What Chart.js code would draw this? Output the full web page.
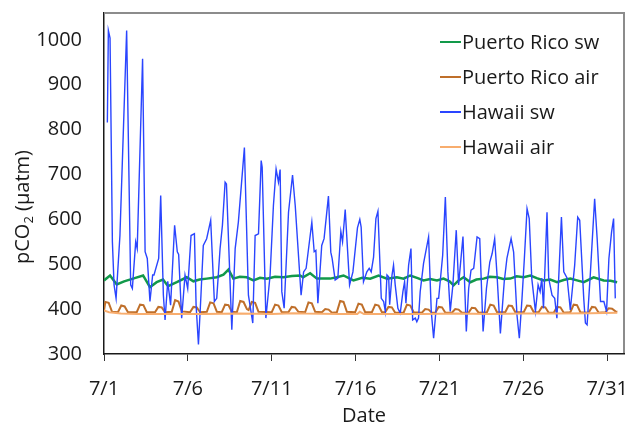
<!DOCTYPE html>
<html>
<head>
<meta charset="utf-8">
<script src="https://cdn.jsdelivr.net/npm/chart.js@4"></script>
<style>
  html, body { margin: 0; padding: 0; background: #fff; }
  #wrap { width: 630px; height: 424px; }
</style>
</head>
<body>
<div id="wrap"><canvas id="pco2Chart" width="630" height="424"></canvas></div>
<script>
// days since 7/1 00:00
const tickDays = [0, 5, 10, 15, 20, 25, 30];
const tickLabels = ["7/1", "7/6", "7/11", "7/16", "7/21", "7/26", "7/31"];
const yTicks = [300, 400, 500, 600, 700, 800, 900, 1000];

const seriesNames = ["Puerto Rico sw", "Puerto Rico air", "Hawaii sw", "Hawaii air"];
const seriesColors = ["#12994a", "#bf6f2a", "#2a45ff", "#f8ad6e"];

const prSwDays = [0, 0.36, 0.76, 1.2, 1.73, 2.33, 2.74, 3.14, 3.52, 3.82, 4.34, 4.93, 5.33, 5.7, 6.13, 6.72, 7.12, 7.42, 7.71, 8.1, 8.51, 8.91, 9.3, 9.71, 10.2, 10.7, 11.2, 11.69, 11.87, 12.29, 12.69, 12.89, 13.48, 13.88, 14.28, 14.87, 15.4, 15.87, 16.37, 16.87, 17.46, 17.86, 18.26, 18.7, 19.05, 19.45, 19.85, 20.24, 20.6, 20.84, 21.14, 21.44, 21.84, 22.2, 22.63, 23.0, 23.43, 23.8, 24.22, 24.6, 25.02, 25.42, 25.8, 26.21, 26.6, 27.01, 27.4, 27.8, 28.2, 28.6, 29.19, 29.79, 30.2, 30.59];
const prSwValues = [464, 475, 455, 462, 468, 475, 449, 460, 466, 451, 460, 471, 462, 466, 468, 471, 477, 488, 468, 472, 471, 464, 470, 468, 472, 471, 474, 475, 471, 480, 468, 468, 468, 471, 475, 464, 470, 468, 475, 468, 471, 468, 475, 469, 464, 467, 464, 468, 462, 453, 464, 471, 460, 466, 468, 472, 471, 467, 468, 473, 471, 475, 469, 464, 466, 460, 465, 468, 464, 460, 471, 464, 463, 460];

const prAirDays = [0, 0.08, 0.28, 0.48, 0.83, 1.03, 1.23, 1.43, 1.95, 2.15, 2.35, 2.55, 3.04, 3.24, 3.44, 3.64, 4.04, 4.24, 4.44, 4.64, 5.13, 5.33, 5.53, 5.73, 6.13, 6.33, 6.53, 6.73, 7.02, 7.22, 7.42, 7.62, 7.92, 8.12, 8.32, 8.52, 8.62, 8.81, 9.01, 9.21, 10.0, 10.2, 10.4, 10.6, 10.99, 11.19, 11.39, 11.59, 11.99, 12.19, 12.39, 12.59, 12.99, 13.19, 13.39, 13.59, 13.88, 14.08, 14.28, 14.48, 14.97, 15.17, 15.37, 15.57, 15.97, 16.17, 16.37, 16.57, 16.76, 16.96, 17.16, 17.36, 17.86, 18.06, 18.26, 18.46, 18.95, 19.15, 19.35, 19.55, 19.75, 19.95, 20.15, 20.35, 20.74, 20.94, 21.14, 21.34, 21.73, 21.93, 22.13, 22.33, 22.83, 23.03, 23.23, 23.43, 23.92, 24.12, 24.32, 24.52, 25.02, 25.22, 25.42, 25.62, 25.91, 26.11, 26.31, 26.51, 26.81, 27.01, 27.21, 27.41, 27.8, 28.0, 28.2, 28.4, 28.89, 29.09, 29.29, 29.49, 29.89, 30.09, 30.29, 30.49, 30.6];
const prAirValues = [397, 416, 414, 394, 393, 408, 406, 393, 393, 410, 409, 393, 393, 405, 404, 393, 394, 420, 417, 395, 393, 405, 404, 393, 394, 415, 413, 394, 393, 410, 409, 394, 393, 418, 416, 400, 398, 416, 414, 394, 393, 410, 408, 393, 393, 405, 404, 394, 393, 415, 413, 394, 393, 400, 399, 392, 393, 418, 416, 394, 393, 412, 410, 393, 393, 410, 408, 393, 393, 405, 404, 392, 392, 410, 408, 393, 392, 400, 399, 392, 392, 405, 404, 392, 392, 400, 399, 392, 392, 403, 402, 392, 393, 410, 408, 393, 393, 408, 407, 393, 393, 408, 407, 393, 393, 405, 404, 392, 392, 405, 404, 392, 393, 410, 409, 393, 392, 405, 404, 392, 393, 402, 401, 395, 394];

const hiSwDays = [0.2, 0.26, 0.36, 0.5, 0.6, 0.72, 0.95, 1.35, 1.59, 1.69, 1.89, 1.98, 2.3, 2.45, 2.58, 2.74, 2.9, 2.98, 3.26, 3.38, 3.54, 3.64, 3.8, 3.97, 4.21, 4.37, 4.45, 4.63, 4.83, 4.99, 5.19, 5.39, 5.49, 5.63, 5.78, 5.92, 6.12, 6.36, 6.58, 6.72, 6.92, 7.06, 7.22, 7.3, 7.62, 7.82, 8.01, 8.37, 8.61, 8.87, 9.01, 9.21, 9.37, 9.43, 9.65, 9.9, 10.1, 10.26, 10.4, 10.5, 10.6, 10.74, 11.0, 11.24, 11.4, 11.75, 11.9, 12.05, 12.39, 12.53, 12.63, 12.75, 12.98, 13.12, 13.38, 13.52, 13.6, 13.78, 13.94, 14.12, 14.22, 14.38, 14.64, 14.84, 15.11, 15.25, 15.33, 15.47, 15.67, 15.81, 15.93, 16.07, 16.21, 16.33, 16.53, 16.67, 16.77, 16.87, 16.97, 17.03, 17.17, 17.26, 17.36, 17.52, 17.66, 17.82, 17.92, 18.0, 18.16, 18.3, 18.4, 18.56, 18.65, 18.75, 18.85, 19.05, 19.35, 19.51, 19.65, 19.85, 19.95, 20.19, 20.35, 20.5, 20.64, 20.8, 21.0, 21.14, 21.4, 21.6, 21.74, 21.88, 22.04, 22.24, 22.4, 22.6, 22.8, 23.0, 23.14, 23.29, 23.43, 23.63, 23.86, 24.02, 24.27, 24.42, 24.62, 24.76, 24.92, 25.06, 25.22, 25.35, 25.5, 25.72, 25.88, 26.0, 26.1, 26.2, 26.41, 26.51, 26.71, 26.87, 27.0, 27.27, 27.41, 27.61, 27.8, 28.06, 28.24, 28.36, 28.6, 28.7, 28.8, 29.0, 29.25, 29.4, 29.6, 29.8, 29.96, 30.1, 30.26, 30.38, 30.48];
const hiSwValues = [816, 1021, 1004, 550, 454, 424, 564, 1021, 454, 446, 550, 535, 958, 528, 513, 417, 476, 476, 513, 653, 431, 376, 462, 409, 587, 528, 522, 380, 476, 446, 564, 568, 409, 321, 431, 542, 557, 598, 417, 424, 535, 587, 683, 679, 354, 535, 594, 760, 431, 369, 564, 568, 731, 716, 380, 475, 631, 712, 683, 711, 439, 402, 616, 699, 631, 431, 483, 491, 594, 528, 531, 413, 542, 557, 652, 527, 513, 465, 469, 573, 550, 622, 454, 483, 581, 600, 583, 461, 483, 491, 483, 516, 602, 618, 424, 417, 395, 476, 472, 410, 476, 498, 454, 402, 391, 439, 461, 413, 498, 535, 376, 380, 372, 380, 439, 502, 561, 395, 335, 424, 424, 520, 650, 483, 395, 454, 576, 454, 562, 350, 446, 487, 491, 561, 557, 350, 446, 505, 524, 557, 476, 346, 461, 513, 557, 527, 387, 335, 424, 513, 624, 602, 469, 395, 454, 439, 469, 402, 616, 469, 431, 424, 380, 605, 483, 469, 398, 498, 605, 598, 424, 369, 365, 483, 646, 557, 417, 417, 395, 513, 572, 602, 424];

const hiAirDays = [0, 0.3, 1, 2, 4, 6, 8, 10, 11.3, 12, 14, 15.1, 15.25, 15.5, 17, 19, 21, 23, 25, 27, 29, 30.6];
const hiAirValues = [397, 393, 390, 389, 389, 389, 390, 389, 391, 390, 389, 389, 394, 389, 389, 389, 390, 389, 390, 390, 391, 392];

const toPoints = (days, values) => days.map((d, i) => ({ x: d, y: values[i] }));

const FONT = "'Open Sans', sans-serif";
const TEXT = "#1a1a1a";

// plot frame, axis titles and legend
const decorPlugin = {
  id: "decor",
  afterDraw(chart) {
    const c = chart.ctx;
    const area = chart.chartArea;
    c.save();
    c.fillStyle = "#8c8c8c";
    c.fillRect(area.left + 1, area.top - 1, area.right - area.left, 2);
    c.fillRect(area.right - 1, area.top - 1, 2, area.bottom - area.top);
    c.restore();

    c.save();
    c.fillStyle = TEXT;
    c.textBaseline = "middle";

    // x title
    c.font = "20px " + FONT;
    c.textAlign = "center";
    c.fillText("Date", 364, 416);

    // y title with subscript
    c.translate(23, 207);
    c.rotate(-Math.PI / 2);
    const big = "20px " + FONT;
    const small = "13px " + FONT;
    c.font = big;
    const w1 = c.measureText("pCO").width;
    const w3 = c.measureText(" (\u00b5atm)").width;
    c.font = small;
    const w2 = c.measureText("2").width;
    let x = -(w1 + w2 + w3) / 2;
    c.textAlign = "left";
    c.font = big;
    c.fillText("pCO", x, 0);
    x += w1;
    c.font = small;
    c.fillText("2", x, 6);
    x += w2;
    c.font = big;
    c.fillText(" (\u00b5atm)", x, 0);
    c.restore();

    // legend
    c.save();
    c.font = "20px " + FONT;
    c.textAlign = "left";
    c.textBaseline = "middle";
    seriesNames.forEach((name, i) => {
      const y = 42 + i * 35;
      c.fillStyle = seriesColors[i];
      c.fillRect(440, y - 1, 21, 2);
      c.fillStyle = TEXT;
      c.fillText(name, 462, y + 1);
    });
    c.restore();
  },
};

const ctx = document.getElementById("pco2Chart").getContext("2d");

new Chart(ctx, {
  type: "line",
  data: {
    datasets: [
      { label: seriesNames[0], data: toPoints(prSwDays, prSwValues), borderColor: seriesColors[0], borderWidth: 2.5, order: 3 },
      { label: seriesNames[1], data: toPoints(prAirDays, prAirValues), borderColor: seriesColors[1], borderWidth: 2, order: 2 },
      { label: seriesNames[2], data: toPoints(hiSwDays, hiSwValues), borderColor: seriesColors[2], borderWidth: 1.4, order: 1 },
      { label: seriesNames[3], data: toPoints(hiAirDays, hiAirValues), borderColor: seriesColors[3], borderWidth: 2, order: 0 },
    ],
  },
  options: {
    responsive: false,
    animation: false,
    events: [],
    elements: { point: { radius: 0 }, line: { tension: 0, fill: false } },
    layout: { padding: { left: 0, right: 6, top: 13, bottom: 0 } },
    plugins: { legend: { display: false }, tooltip: { enabled: false } },
    scales: {
      x: {
        type: "linear",
        min: 0,
        max: 31,
        afterBuildTicks: (scale) => {
          scale.ticks = tickDays.map((v) => ({ value: v }));
        },
        afterFit: (scale) => {
          scale.height = 70;
          scale.paddingLeft = 0;
          scale.paddingRight = 0;
        },
        ticks: {
          autoSkip: false,
          maxRotation: 0,
          padding: 16,
          color: TEXT,
          font: { family: FONT, size: 20 },
          callback: (v) => tickLabels[tickDays.indexOf(v)],
        },
        grid: { display: true, drawOnChartArea: false, drawTicks: true, tickLength: 7, color: "#333", tickWidth: 1 },
        border: { display: true, color: TEXT, width: 1.5 },
      },
      y: {
        min: 300,
        max: 1060,
        afterBuildTicks: (scale) => {
          scale.ticks = yTicks.map((v) => ({ value: v }));
        },
        afterFit: (scale) => {
          scale.width = 104;
          scale.paddingTop = 0;
          scale.paddingBottom = 0;
        },
        ticks: {
          padding: 22,
          color: TEXT,
          font: { family: FONT, size: 20 },
          callback: (v) => String(v),
        },
        grid: { display: false, drawTicks: false },
        border: { display: true, color: TEXT, width: 1.5 },
      },
    },
  },
  plugins: [decorPlugin],
});
</script>
</body>
</html>
